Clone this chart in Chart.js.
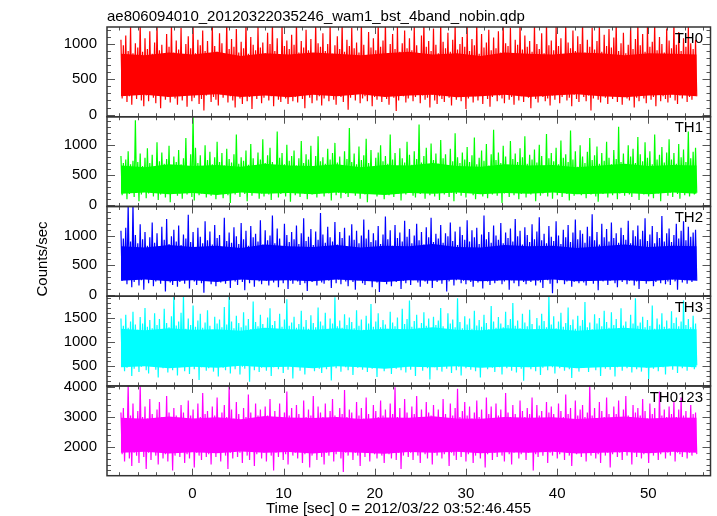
<!DOCTYPE html>
<html>
<head>
<meta charset="utf-8">
<script src="https://cdn.jsdelivr.net/npm/chart.js@4.4.1/dist/chart.umd.min.js"></script>
<style>
  html, body { margin: 0; padding: 0; background: #fff; }
</style>
</head>
<body>
<canvas id="lc" width="717" height="516"></canvas>
<script>
// light curve bins: first bin time and bin width (sec)
const binStart = -7.84;
const binWidth = 0.13184;
// core envelope sampled every envStep sec over the same span
const envStep = 2.631;

// counts/sec per bin (local max / local min alternating)
const th0 = [
  1060, 230, 980, 310, 1120, 180, 900, 260, 1250, 140, 870, 290, 1010, 220, 950, 340, 1300, 200, 890, 120, 1080, 270, 930, 190,
  1180, 300, 860, 240, 1020, 160, 1300, 280, 910, 90, 990, 330, 840, 210, 1140, 250, 960, 170, 1270, 310, 880, 230, 1050, 140,
  920, 260, 1230, 200, 800, 350, 1000, 110, 1110, 280, 940, 190, 1300, 240, 870, 300, 1060, 150, 980, 220, 1190, 60, 900, 270,
  1040, 320, 850, 180, 1280, 250, 970, 210, 890, 130, 1150, 290, 1010, 240, 780, 360, 1300, 170, 930, 260, 1070, 200, 960, 100,
  1210, 280, 880, 230, 1030, 150, 940, 310, 1300, 190, 860, 250, 1100, 80, 990, 270, 910, 220, 1240, 330, 950, 160, 1020, 240,
  870, 290, 1160, 200, 1000, 260, 1300, 120, 900, 340, 1080, 210, 820, 180, 1260, 270, 970, 230, 1050, 150, 930, 300, 1130, 190,
  990, 250, 1300, 170, 880, 320, 1040, 220, 950, 90, 1200, 280, 910, 240, 1070, 160, 840, 300, 1290, 200, 1010, 260, 960, 130,
  1150, 230, 900, 350, 1000, 190, 1270, 270, 860, 210, 980, 140, 1110, 290, 930, 250, 1300, 180, 890, 320, 1060, 70, 970, 240,
  1230, 280, 940, 200, 1020, 310, 880, 160, 1300, 230, 990, 260, 790, 190, 1170, 300, 950, 120, 1080, 250, 910, 210, 1280, 330,
  960, 180, 1050, 270, 1300, 220, 870, 140, 1000, 290, 1140, 240, 930, 50, 1240, 200, 890, 310, 1010, 260, 1190, 170, 940, 230,
  1080, 300, 910, 190, 1260, 250, 980, 330, 850, 160, 1120, 270, 1300, 210, 960, 240, 1040, 100, 900, 280, 1220, 200, 990, 150,
  870, 260, 1300, 220, 1030, 180, 940, 300, 1160, 240, 890, 130, 1060, 270, 1280, 210, 920, 320, 1000, 190, 1100, 250, 960, 80,
  1250, 230, 900, 290, 1070, 170, 980, 260, 1300, 200, 860, 340, 1140, 150, 950, 280, 1020, 220, 1200, 110, 910, 250, 1090, 300,
  940, 190, 1180, 270, 880, 230, 1300, 160, 1010, 310, 970, 210, 1230, 250, 830, 140, 1060, 290, 990, 200, 1300, 260, 920, 180,
  1120, 320, 960, 240, 1040, 90, 890, 280, 1270, 220, 1000, 170, 930, 300, 1150, 250, 870, 190, 1300, 230, 980, 130, 1050, 270,
  910, 210, 1240, 330, 970, 160, 1080, 250, 850, 290, 1300, 200, 1020, 240, 940, 120, 1190, 280, 900, 220, 1110, 180, 1000, 310,
  1300, 250, 880, 190, 1060, 270, 960, 60, 1230, 230, 920, 300, 1040, 210, 1280, 170, 890, 260, 1130, 240, 970, 150, 1210, 280,
  950, 220, 1090, 310, 1300, 180, 900, 250, 1010, 140, 1160, 290, 870, 230, 990, 200, 1260, 270, 930, 100, 1070, 240, 1300, 190,
  980, 300, 1140, 230, 890, 160, 1250, 280, 960, 210, 1030, 250, 1300, 120, 910, 320, 1100, 190, 1000, 260, 880, 220, 1220, 170,
  1050, 240, 940, 290, 1300, 200, 990, 150, 1170, 270, 900, 230, 1080, 310, 960, 180, 1240, 250, 1010, 210, 930, 270, 1060, 260
];
const th1 = [
  820, 160, 700, 220, 760, 90, 900, 180, 680, 250, 740, 130, 1420, 200, 720, 60, 860, 170, 650, 230, 790, 110, 950, 190,
  700, 240, 840, 140, 620, 200, 1050, 80, 730, 170, 880, 260, 690, 120, 770, 210, 990, 40, 660, 180, 810, 230, 720, 150,
  920, 190, 680, 100, 780, 250, 1120, 170, 640, 210, 850, 130, 1520, 70, 960, 220, 700, 160, 830, 190, 610, 240, 1000, 120,
  750, 200, 890, 150, 680, 270, 800, 90, 1060, 180, 720, 230, 870, 110, 660, 200, 940, 160, 770, 30, 710, 250, 850, 170,
  1180, 210, 690, 130, 800, 240, 740, 180, 910, 60, 670, 220, 1020, 150, 780, 200, 630, 260, 880, 100, 760, 190, 1100, 140,
  700, 230, 830, 170, 960, 80, 720, 210, 650, 250, 1230, 120, 790, 180, 870, 220, 680, 140, 1010, 200, 740, 50, 820, 240,
  910, 160, 660, 200, 780, 130, 1070, 230, 700, 180, 850, 90, 760, 260, 990, 170, 640, 210, 820, 120, 1150, 190, 730, 230,
  800, 140, 690, 250, 940, 190, 760, 70, 870, 220, 1040, 160, 710, 200, 810, 110, 650, 240, 900, 180, 770, 130, 1290, 210,
  720, 260, 860, 150, 680, 200, 980, 100, 750, 230, 830, 170, 1110, 40, 700, 210, 920, 190, 640, 250, 790, 140, 880, 220,
  1000, 180, 730, 90, 820, 240, 690, 160, 1180, 210, 760, 130, 870, 250, 650, 190, 950, 70, 780, 220, 710, 170, 1060, 200,
  840, 230, 670, 150, 900, 120, 770, 210, 1350, 180, 710, 260, 820, 100, 960, 200, 680, 160, 1030, 230, 750, 140, 860, 190,
  690, 80, 1090, 220, 780, 170, 850, 240, 640, 130, 940, 200, 730, 60, 1200, 180, 800, 250, 700, 150, 880, 210, 760, 120,
  970, 200, 720, 250, 830, 160, 1130, 90, 680, 220, 790, 180, 910, 140, 740, 230, 1020, 110, 660, 200, 850, 170, 1260, 240,
  750, 150, 880, 210, 700, 30, 990, 190, 810, 250, 670, 130, 1070, 200, 770, 160, 860, 230, 720, 90, 950, 180, 800, 220,
  1150, 120, 690, 240, 840, 170, 760, 200, 930, 60, 710, 250, 1010, 150, 820, 190, 650, 220, 1190, 140, 780, 210, 870, 100,
  730, 230, 960, 160, 680, 200, 1080, 130, 790, 240, 850, 180, 720, 70, 1250, 210, 760, 150, 900, 230, 640, 190, 1000, 160,
  810, 250, 700, 110, 890, 200, 1120, 170, 750, 230, 830, 140, 980, 50, 690, 210, 870, 180, 740, 240, 1060, 120, 790, 200,
  680, 160, 920, 230, 770, 90, 1310, 190, 720, 250, 860, 150, 660, 210, 1000, 170, 810, 130, 940, 240, 700, 200, 1140, 80,
  850, 220, 730, 170, 1050, 240, 790, 140, 900, 200, 680, 110, 1180, 230, 760, 190, 840, 60, 970, 210, 710, 250, 880, 150,
  1100, 200, 760, 130, 870, 230, 690, 180, 1020, 100, 800, 240, 930, 160, 720, 210, 1230, 140, 780, 220, 890, 170, 960, 200
];
const th2 = [
  1080, 240, 950, 300, 1130, 180, 1530, 260, 900, 130, 1540, 220, 1010, 290, 870, 160, 1190, 250, 940, 90, 1060, 310, 830, 200,
  970, 270, 1220, 150, 880, 230, 1040, 320, 810, 190, 1150, 260, 930, 60, 1280, 240, 860, 210, 990, 170, 1100, 300, 900, 140,
  1170, 220, 840, 280, 1020, 190, 950, 250, 1350, 110, 890, 300, 1060, 230, 790, 170, 1130, 270, 980, 200, 870, 40, 1240, 260,
  920, 310, 1070, 180, 850, 240, 1180, 150, 960, 280, 1010, 210, 800, 330, 1300, 190, 910, 250, 1050, 120, 880, 290, 1140, 230,
  990, 170, 860, 260, 1210, 220, 940, 80, 1080, 300, 830, 200, 1160, 250, 970, 140, 1030, 280, 900, 230, 1260, 180, 850, 310,
  1090, 240, 920, 160, 1000, 290, 1340, 210, 870, 250, 1120, 130, 950, 320, 820, 200, 1200, 270, 1010, 100, 890, 240, 1060, 190,
  940, 300, 1170, 230, 860, 170, 1040, 260, 1290, 200, 910, 70, 980, 280, 1110, 220, 840, 250, 1070, 160, 930, 310, 1380, 210,
  1020, 190, 880, 270, 1150, 240, 970, 120, 900, 300, 1230, 200, 850, 260, 1060, 180, 960, 330, 1130, 230, 810, 150, 1000, 280,
  1190, 220, 930, 90, 1080, 250, 870, 300, 1000, 200, 1270, 170, 950, 240, 1100, 280, 890, 130, 1040, 260, 920, 210, 1160, 50,
  860, 290, 1020, 230, 1320, 180, 940, 260, 1090, 150, 830, 310, 1180, 220, 960, 270, 1050, 100, 900, 240, 1250, 200, 980, 300,
  1110, 170, 870, 250, 1000, 320, 1200, 210, 920, 140, 1060, 280, 850, 230, 1140, 190, 970, 260, 1300, 120, 890, 300, 1030, 220,
  950, 260, 1180, 190, 880, 290, 1040, 60, 990, 230, 1220, 270, 910, 160, 1070, 250, 840, 310, 1150, 200, 1010, 240, 930, 180,
  1260, 300, 900, 220, 1090, 140, 970, 270, 1130, 210, 860, 250, 1020, 110, 1340, 290, 940, 230, 1060, 170, 880, 260, 1170, 200,
  1000, 240, 930, 310, 1210, 180, 870, 230, 1050, 280, 960, 90, 1120, 250, 900, 200, 1280, 270, 990, 150, 1080, 300, 850, 220,
  1140, 180, 1010, 260, 890, 220, 1190, 300, 940, 160, 1070, 240, 1310, 210, 920, 120, 1030, 280, 870, 250, 1160, 190, 980, 30,
  910, 270, 1240, 200, 1000, 250, 860, 310, 1100, 180, 970, 230, 1180, 270, 890, 140, 1050, 220, 1270, 260, 940, 200, 1090, 290,
  1030, 210, 880, 160, 1150, 280, 990, 240, 1360, 190, 920, 300, 1060, 80, 850, 250, 1200, 230, 970, 270, 1110, 170, 900, 240,
  1220, 290, 960, 200, 1040, 130, 880, 260, 1130, 220, 1010, 280, 930, 180, 1250, 240, 870, 310, 1090, 160, 990, 230, 1170, 100,
  940, 250, 1080, 300, 1290, 190, 910, 240, 1020, 270, 1160, 150, 870, 220, 1060, 290, 960, 200, 1330, 250, 900, 180, 1040, 230,
  1120, 170, 890, 260, 1010, 230, 1200, 90, 950, 280, 1080, 210, 1240, 250, 920, 190, 1150, 270, 980, 220, 1050, 260, 1100, 240
];
const th3 = [
  1480, 520, 1330, 400, 1560, 470, 1290, 580, 1420, 300, 1620, 450, 1360, 530, 1250, 380, 1510, 490, 1380, 560, 1700, 420, 1310, 350,
  1450, 500, 1280, 600, 1590, 430, 1350, 270, 1470, 510, 1230, 460, 1680, 540, 1390, 370, 1300, 490, 1530, 420, 1990, 550, 1340, 310,
  1420, 480, 1600, 530, 1960, 400, 1270, 570, 1480, 340, 1350, 500, 1750, 440, 1310, 590, 1440, 220, 1580, 480, 1290, 530, 1400, 410,
  1650, 460, 1330, 550, 1250, 390, 1520, 500, 1380, 290, 1460, 540, 1300, 470, 1720, 420, 1360, 560, 1990, 350, 1420, 510, 1280, 440,
  1540, 580, 1390, 330, 1300, 490, 1610, 450, 1340, 530, 1470, 180, 1260, 500, 1830, 420, 1410, 560, 1320, 380, 1560, 470, 1370, 520,
  1280, 410, 1500, 550, 1690, 300, 1350, 480, 1430, 520, 1240, 440, 1580, 570, 1310, 360, 1460, 500, 1880, 430, 1330, 540, 1400, 250,
  1520, 490, 1290, 560, 1370, 410, 1640, 500, 1310, 330, 1450, 540, 1270, 470, 1550, 590, 1390, 400, 1300, 520, 1710, 450, 1420, 360,
  1340, 530, 1600, 440, 1260, 580, 1480, 210, 1380, 500, 1920, 460, 1320, 540, 1440, 390, 1290, 560, 1570, 480, 1350, 420, 1500, 550,
  1410, 320, 1280, 510, 1650, 470, 1330, 560, 1460, 430, 1250, 590, 1540, 380, 1380, 500, 1780, 450, 1310, 530, 1420, 280, 1590, 490,
  1300, 560, 1450, 400, 1360, 520, 1270, 470, 1620, 340, 1400, 580, 1320, 450, 1500, 510, 1240, 420, 1680, 550, 1370, 370, 1470, 500,
  1850, 430, 1310, 540, 1430, 300, 1560, 490, 1290, 570, 1390, 410, 1610, 520, 1330, 460, 1480, 230, 1260, 540, 1520, 480, 1350, 420,
  1440, 580, 1700, 390, 1320, 500, 1250, 450, 1590, 530, 1380, 360, 1460, 560, 1300, 420, 1900, 490, 1410, 310, 1280, 550, 1530, 460,
  1360, 510, 1480, 430, 1270, 570, 1640, 400, 1340, 520, 1450, 270, 1310, 480, 1560, 540, 1390, 440, 1260, 590, 1740, 470, 1420, 380,
  1290, 550, 1510, 480, 1380, 330, 1300, 520, 1620, 460, 1350, 560, 1470, 410, 1800, 500, 1330, 370, 1440, 540, 1280, 450, 1580, 200,
  1400, 490, 1320, 580, 1660, 440, 1370, 510, 1250, 400, 1490, 550, 1340, 320, 1580, 470, 1430, 530, 1300, 420, 1950, 560, 1360, 480,
  1530, 350, 1280, 520, 1420, 460, 1600, 570, 1310, 410, 1390, 500, 1710, 440, 1350, 260, 1460, 540, 1270, 480, 1540, 390, 1330, 560,
  1450, 470, 1820, 530, 1300, 380, 1400, 560, 1260, 490, 1570, 420, 1380, 550, 1490, 300, 1320, 510, 1640, 450, 1410, 580, 1290, 430,
  1610, 520, 1350, 290, 1470, 480, 1280, 540, 1690, 410, 1340, 570, 1420, 460, 1260, 500, 1560, 370, 1380, 530, 1900, 440, 1330, 510,
  1400, 390, 1520, 560, 1300, 470, 1450, 240, 1330, 520, 1750, 450, 1270, 580, 1480, 400, 1360, 540, 1590, 480, 1310, 330, 1440, 500,
  1280, 550, 1630, 430, 1390, 510, 1500, 360, 1320, 570, 1420, 460, 1850, 520, 1350, 410, 1470, 560, 1300, 480, 1540, 440, 1380, 520
];
const th0123 = [
  3150, 1750, 3300, 1500, 2950, 1850, 4100, 1600, 3050, 1350, 3450, 1800, 2900, 1700, 3200, 1450, 4080, 1900, 3000, 1650, 3350, 1250, 2950, 1800,
  3600, 1550, 3100, 1850, 2900, 1700, 3250, 1400, 3500, 1900, 3000, 1600, 2850, 1750, 3700, 1500, 3150, 1850, 2950, 1200, 3300, 1700, 3050, 1800,
  2900, 1650, 3400, 1850, 3150, 1450, 2950, 1750, 3550, 1600, 3050, 1900, 3250, 1300, 2850, 1800, 3450, 1700, 3000, 1550, 3800, 1850, 3100, 1650,
  3200, 1750, 2950, 1400, 3350, 1850, 3050, 1650, 3650, 1800, 2900, 1500, 3150, 1900, 3400, 1700, 3000, 1250, 4100, 1800, 3250, 1600, 2950, 1850,
  3500, 1650, 3100, 1800, 2850, 1450, 3300, 1900, 3000, 1700, 3750, 1550, 3150, 1850, 2950, 1350, 3450, 1750, 3050, 1900, 3250, 1600, 2900, 1800,
  3350, 1500, 3050, 1850, 3600, 1700, 2950, 1200, 3200, 1800, 3000, 1650, 3450, 1900, 2900, 1550, 3150, 1750, 3850, 1400, 3050, 1850, 3300, 1700,
  2950, 1800, 3400, 1600, 3100, 1900, 2850, 1450, 3550, 1750, 3000, 1850, 3250, 1300, 3050, 1700, 3700, 1800, 2950, 1550, 3350, 1900, 3150, 1650,
  3000, 1400, 3450, 1800, 2900, 1700, 3200, 1850, 3600, 1500, 3050, 1750, 2950, 1900, 3300, 1600, 3100, 1150, 3900, 1800, 3000, 1700, 3250, 1850,
  3150, 1550, 2900, 1800, 3500, 1700, 3050, 1350, 3300, 1900, 2950, 1650, 3650, 1800, 3100, 1500, 2850, 1850, 3400, 1750, 3200, 1600, 3000, 1900,
  3550, 1700, 3050, 1450, 3250, 1850, 2900, 1750, 3450, 1600, 3100, 1900, 4000, 1550, 3000, 1800, 3300, 1250, 2950, 1700, 3600, 1850, 3150, 1650,
  2950, 1800, 3350, 1550, 3100, 1900, 3700, 1700, 3000, 1450, 3250, 1850, 2900, 1750, 3500, 1600, 3150, 1900, 3050, 1400, 3400, 1800, 2950, 1700,
  3250, 1850, 3000, 1600, 3600, 1750, 3100, 1900, 2850, 1350, 3450, 1800, 3050, 1700, 3300, 1550, 3950, 1850, 3000, 1650, 3200, 1900, 3500, 1500,
  3050, 1750, 3350, 1850, 2950, 1450, 3150, 1700, 3550, 1900, 3000, 1600, 3250, 1800, 2900, 1300, 3650, 1750, 3100, 1850, 3350, 1550, 2950, 1800,
  3450, 1650, 3050, 1900, 3250, 1700, 2900, 1500, 3800, 1850, 3150, 1750, 3000, 1400, 3400, 1800, 3100, 1900, 2950, 1600, 3550, 1750, 3200, 1850,
  3000, 1550, 3300, 1800, 3100, 1900, 3650, 1200, 2950, 1750, 3400, 1650, 3050, 1850, 3200, 1700, 2900, 1900, 3500, 1450, 3150, 1800, 3350, 1700,
  3100, 1850, 2950, 1600, 3450, 1750, 3200, 1900, 3000, 1550, 3750, 1800, 3100, 1700, 3300, 1350, 2900, 1850, 3550, 1750, 3050, 1900, 3250, 1650,
  3400, 1800, 3000, 1500, 3150, 1850, 4050, 1700, 3050, 1900, 3300, 1600, 2950, 1750, 3500, 1450, 3200, 1850, 3000, 1700, 3650, 1800, 3100, 1300,
  2950, 1750, 3350, 1900, 3100, 1650, 3550, 1800, 3000, 1550, 3250, 1850, 3700, 1700, 3050, 1900, 2900, 1400, 3400, 1800, 3150, 1650, 3300, 1850,
  3050, 1600, 3600, 1750, 3200, 1850, 2950, 1450, 3450, 1900, 3100, 1700, 3300, 1800, 2900, 1550, 3850, 1750, 3050, 1900, 3250, 1600, 3000, 1800,
  3350, 1700, 3100, 1850, 3500, 1500, 3000, 1800, 3250, 1750, 3650, 1650, 3050, 1900, 3200, 1600, 2950, 1800, 3400, 1700, 3100, 1850, 3150, 1750
];

// dense core of each light curve (upper / lower edge of the solid band)
const th0Upper = [860, 840, 880, 850, 890, 830, 870, 850, 880, 860, 840, 870, 890, 850, 870, 830, 880, 860, 850, 880, 870, 840, 870, 860, 850];
const th0Lower = [260, 280, 250, 270, 290, 250, 270, 245, 280, 260, 290, 250, 270, 280, 245, 260, 280, 250, 270, 290, 260, 245, 270, 280, 260];
const th1Upper = [660, 630, 680, 650, 670, 640, 690, 660, 650, 680, 630, 670, 660, 700, 650, 640, 680, 660, 670, 630, 660, 690, 650, 670, 660];
const th1Lower = [185, 205, 175, 195, 165, 205, 185, 195, 175, 205, 185, 165, 195, 185, 205, 175, 195, 185, 205, 175, 185, 195, 175, 205, 185];
const th2Upper = [820, 800, 840, 810, 830, 790, 850, 820, 810, 840, 800, 830, 820, 860, 810, 800, 840, 820, 830, 790, 820, 850, 810, 830, 820];
const th2Lower = [240, 260, 230, 250, 220, 260, 240, 250, 230, 260, 240, 220, 250, 240, 260, 230, 250, 240, 260, 230, 240, 250, 230, 260, 240];
const th3Upper = [1270, 1240, 1280, 1250, 1260, 1230, 1290, 1260, 1250, 1280, 1240, 1270, 1260, 1300, 1250, 1240, 1280, 1260, 1270, 1230, 1260, 1290, 1250, 1270, 1260];
const th3Lower = [480, 500, 460, 490, 470, 510, 480, 490, 460, 500, 480, 450, 490, 480, 500, 470, 490, 480, 500, 460, 480, 490, 470, 500, 480];
const th0123Upper = [2970, 2940, 3010, 2950, 2990, 2920, 3030, 2980, 2960, 3000, 2930, 2980, 2970, 3020, 2950, 2940, 3000, 2970, 2990, 2930, 2970, 3010, 2950, 2980, 2970];
const th0123Lower = [1800, 1830, 1770, 1810, 1780, 1840, 1800, 1820, 1770, 1830, 1800, 1760, 1820, 1800, 1830, 1780, 1810, 1800, 1830, 1770, 1800, 1820, 1780, 1830, 1800];

// axis ranges and tick labels
const xRange = [-9.37, 56.82];
const xTicks = [0, 10, 20, 30, 40, 50];
const th0Range = [-30, 1240];
const th1Range = [-30, 1480];
const th2Range = [-20, 1490];
const th3Range = [95, 1940];
const th0123Range = [1025, 4040];
const th0Ticks = [0, 500, 1000];
const th1Ticks = [0, 500, 1000];
const th2Ticks = [0, 500, 1000];
const th3Ticks = [500, 1000, 1500];
const th0123Ticks = [2000, 3000, 4000];

const FONT = 'Liberation Sans, Arial, Helvetica, sans-serif';

const panels = [
  { id: 'y0', label: 'TH0', values: th0, upper: th0Upper, lower: th0Lower, color: '#ff0000', range: th0Range, ticks: th0Ticks, minor: 100, major: 500 },
  { id: 'y1', label: 'TH1', values: th1, upper: th1Upper, lower: th1Lower, color: '#00ff00', range: th1Range, ticks: th1Ticks, minor: 100, major: 500 },
  { id: 'y2', label: 'TH2', values: th2, upper: th2Upper, lower: th2Lower, color: '#0000ff', range: th2Range, ticks: th2Ticks, minor: 100, major: 500 },
  { id: 'y3', label: 'TH3', values: th3, upper: th3Upper, lower: th3Lower, color: '#00ffff', range: th3Range, ticks: th3Ticks, minor: 100, major: 500 },
  { id: 'y4', label: 'TH0123', values: th0123, upper: th0123Upper, lower: th0123Lower, color: '#ff00ff', range: th0123Range, ticks: th0123Ticks, minor: 200, major: 1000 }
];

const scales = {
  x: {
    type: 'linear',
    position: 'bottom',
    min: xRange[0],
    max: xRange[1],
    afterBuildTicks: s => { s.ticks = xTicks.map(v => ({ value: v })); },
    afterFit: s => { s.height = 40.3; },
    grid: { display: false, drawTicks: false },
    border: { display: false },
    ticks: { font: { family: FONT, size: 15 }, color: '#000', padding: 9, maxRotation: 0, autoSkip: false, callback: v => String(v) }
  }
};

panels.forEach((p, k) => {
  scales[p.id] = {
    type: 'linear',
    position: 'left',
    stack: 'lc',
    stackWeight: 1,
    weight: panels.length - k,
    min: p.range[0],
    max: p.range[1],
    afterBuildTicks: s => { s.ticks = p.ticks.map(v => ({ value: v })); },
    afterFit: s => { s.width = 107; },
    grid: { display: false, drawTicks: false },
    border: { display: false },
    ticks: { font: { family: FONT, size: 15 }, color: '#000', padding: 10, autoSkip: false, callback: v => String(v) }
  };
});

// per panel: lower core edge, upper core edge filled down to it, then the binned curve
const datasets = [];
panels.forEach(p => {
  const env = arr => arr.map((v, i) => ({ x: binStart + i * envStep, y: v }));
  const lowerIndex = datasets.length;
  datasets.push({
    yAxisID: p.id, xAxisID: 'x', data: env(p.lower),
    borderWidth: 0, pointRadius: 0, fill: false
  });
  datasets.push({
    yAxisID: p.id, xAxisID: 'x', data: env(p.upper),
    borderWidth: 0, pointRadius: 0, backgroundColor: p.color,
    fill: { target: lowerIndex }
  });
  datasets.push({
    label: p.label,
    yAxisID: p.id,
    xAxisID: 'x',
    data: p.values.map((v, i) => ({ x: binStart + i * binWidth, y: v })),
    borderColor: p.color,
    borderWidth: 1.2,
    pointRadius: 0,
    tension: 0,
    fill: false
  });
});

// panel frames, inward tick marks, labels and titles
const framePlugin = {
  id: 'frames',
  afterDraw(chart) {
    const ctx = chart.ctx;
    const xs = chart.scales.x;
    const area = chart.chartArea;
    ctx.save();
    panels.forEach(p => {
      const ys = chart.scales[p.id];
      const top = ys.top, bottom = ys.bottom;
      ctx.strokeStyle = '#555';
      ctx.lineWidth = 1;
      ctx.beginPath();
      for (let v = Math.ceil(ys.min / p.minor) * p.minor; v <= ys.max; v += p.minor) {
        const y = Math.round(ys.getPixelForValue(v)) + 0.5;
        const len = v % p.major === 0 ? 8 : 4;
        ctx.moveTo(area.left, y); ctx.lineTo(area.left + len, y);
        ctx.moveTo(area.right, y); ctx.lineTo(area.right - len, y);
      }
      for (let t = -8; t <= 56; t += 2) {
        const x = Math.round(xs.getPixelForValue(t)) + 0.5;
        const len = t % 10 === 0 ? 7 : 3.5;
        ctx.moveTo(x, top); ctx.lineTo(x, top + len);
        ctx.moveTo(x, bottom); ctx.lineTo(x, bottom - len);
      }
      ctx.stroke();
      ctx.strokeStyle = '#333';
      ctx.lineWidth = 1.5;
      ctx.strokeRect(area.left, top, area.right - area.left, bottom - top);

      ctx.fillStyle = '#000';
      ctx.font = '15px ' + FONT;
      ctx.textAlign = 'right';
      ctx.textBaseline = 'alphabetic';
      ctx.fillText(p.label, 703, top + 15.7);
    });

    ctx.fillStyle = '#000';
    ctx.font = '15px ' + FONT;
    ctx.textAlign = 'left';
    ctx.fillText('ae806094010_20120322035246_wam1_bst_4band_nobin.qdp', 107, 20.7);

    ctx.textAlign = 'center';
    ctx.fillText('Time [sec] 0 = 2012/03/22 03:52:46.455', 398.5, 513);

    ctx.translate(46.5, 259);
    ctx.rotate(-Math.PI / 2);
    ctx.fillText('Counts/sec', 0, 0);
    ctx.restore();
  }
};

new Chart(document.getElementById('lc').getContext('2d'), {
  type: 'line',
  data: { datasets: datasets },
  options: {
    responsive: false,
    devicePixelRatio: 1,
    animation: false,
    events: [],
    layout: { padding: { top: 27, right: 6.5, bottom: 0, left: 0 } },
    plugins: {
      legend: { display: false },
      title: { display: false },
      tooltip: { enabled: false }
    },
    scales: scales
  },
  plugins: [framePlugin]
});
</script>
</body>
</html>
